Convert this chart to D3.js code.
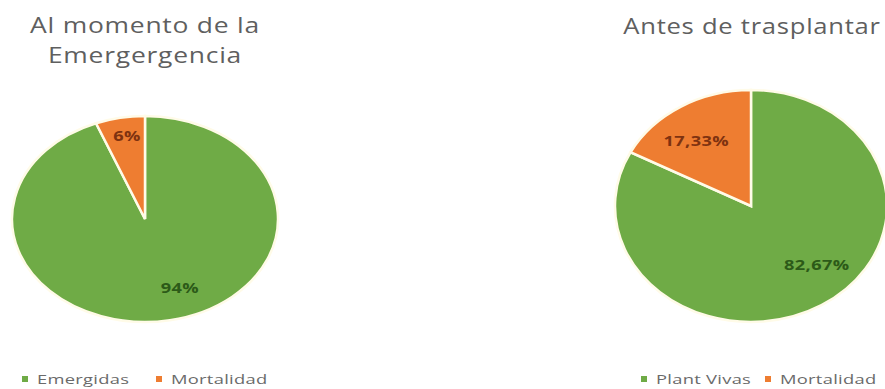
<!DOCTYPE html>
<html>
<head>
<meta charset="utf-8">
<script src="https://cdn.jsdelivr.net/npm/d3@7"></script>
<style>
  html, body { margin: 0; padding: 0; background: #fff; }
  svg { display: block; }
</style>
</head>
<body>
<svg id="chart" width="885" height="389"></svg>
<script>
// ---- Data ----
const leftTitle = ["Al momento de la", "Emergergencia"];
const leftCategories = ["Emergidas", "Mortalidad"];
const leftValues = [94, 6];
const leftLabels = ["94%", "6%"];

const rightTitle = ["Antes de trasplantar"];
const rightCategories = ["Plant Vivas", "Mortalidad"];
const rightValues = [82.67, 17.33];
const rightLabels = ["82,67%", "17,33%"];

const colors = ["#6fab46", "#ee7d31"];
const labelColors = ["#2c5a18", "#7e3210"];

// ---- Layout ----
const svg = d3.select("#chart");
const charts = [
  { title: leftTitle, cats: leftCategories, vals: leftValues, labels: leftLabels,
    cx: 145, cy: 219, rx: 133, ry: 103, titleX: 145, titleY: 33, titleSx: 1.26,
    labelFrac: [0.68, 0.8], labelNudge: [[18, 0], [2, -2]],
    legendX: [22, 156] },
  { title: rightTitle, cats: rightCategories, vals: rightValues, labels: rightLabels,
    cx: 751, cy: 206, rx: 136, ry: 116, titleX: 752, titleY: 34, titleSx: 1.22,
    labelFrac: [0.72, 0.72], labelNudge: [[15, -13], [-4, 6]],
    legendX: [641, 765] }
];

const pie = d3.pie().sort(null).value(d => d);

// text stretched horizontally like the reference
function stretchedText(parent, x, y, sx) {
  return parent.append("g")
    .attr("transform", `translate(${x},${y}) scale(${sx},1)`)
    .append("text");
}

charts.forEach(c => {
  const g = svg.append("g");

  // title
  const t = stretchedText(g, c.titleX, c.titleY, c.titleSx)
    .attr("text-anchor", "middle")
    .attr("font-family", "Open Sans, sans-serif")
    .attr("font-size", 21)
    .attr("fill", "#5f5f5f")
    .attr("letter-spacing", 0.6);
  c.title.forEach((line, i) => {
    t.append("tspan").attr("x", 0).attr("dy", i === 0 ? 0 : 30).text(line);
  });

  // pie (elliptical)
  const arc = d3.arc().innerRadius(0).outerRadius(c.rx);
  const sy = c.ry / c.rx;
  const pg = g.append("g").attr("transform", `translate(${c.cx},${c.cy}) scale(1,${sy})`);
  const arcs = pie(c.vals);
  pg.selectAll("path").data(arcs).join("path")
    .attr("d", arc)
    .attr("fill", (d, i) => colors[i])
    .attr("stroke", "#fffbe8")
    .attr("stroke-width", 2.5)
    .attr("vector-effect", "non-scaling-stroke");

  // labels
  arcs.forEach((d, i) => {
    const a = (d.startAngle + d.endAngle) / 2;
    const f = c.labelFrac[i];
    const x = c.cx + Math.sin(a) * c.rx * f + c.labelNudge[i][0];
    const y = c.cy - Math.cos(a) * c.ry * f + c.labelNudge[i][1];
    stretchedText(g, x, y, 1.3)
      .attr("text-anchor", "middle")
      .attr("dominant-baseline", "central")
      .attr("font-family", "Open Sans, sans-serif")
      .attr("font-weight", "bold")
      .attr("font-size", 14)
      .attr("letter-spacing", 0.3)
      .attr("fill", labelColors[i])
      .text(c.labels[i]);
  });

  // legend
  c.cats.forEach((name, i) => {
    const lx = c.legendX[i];
    g.append("rect")
      .attr("x", lx).attr("y", 376)
      .attr("width", 6).attr("height", 6)
      .attr("fill", colors[i]);
    stretchedText(g, lx + 15, 383.5, 1.36)
      .attr("font-family", "Open Sans, sans-serif")
      .attr("font-size", 13.5)
      .attr("fill", "#6a6a6a")
      .attr("letter-spacing", 0.2)
      .text(name);
  });
});
</script>
</body>
</html>
